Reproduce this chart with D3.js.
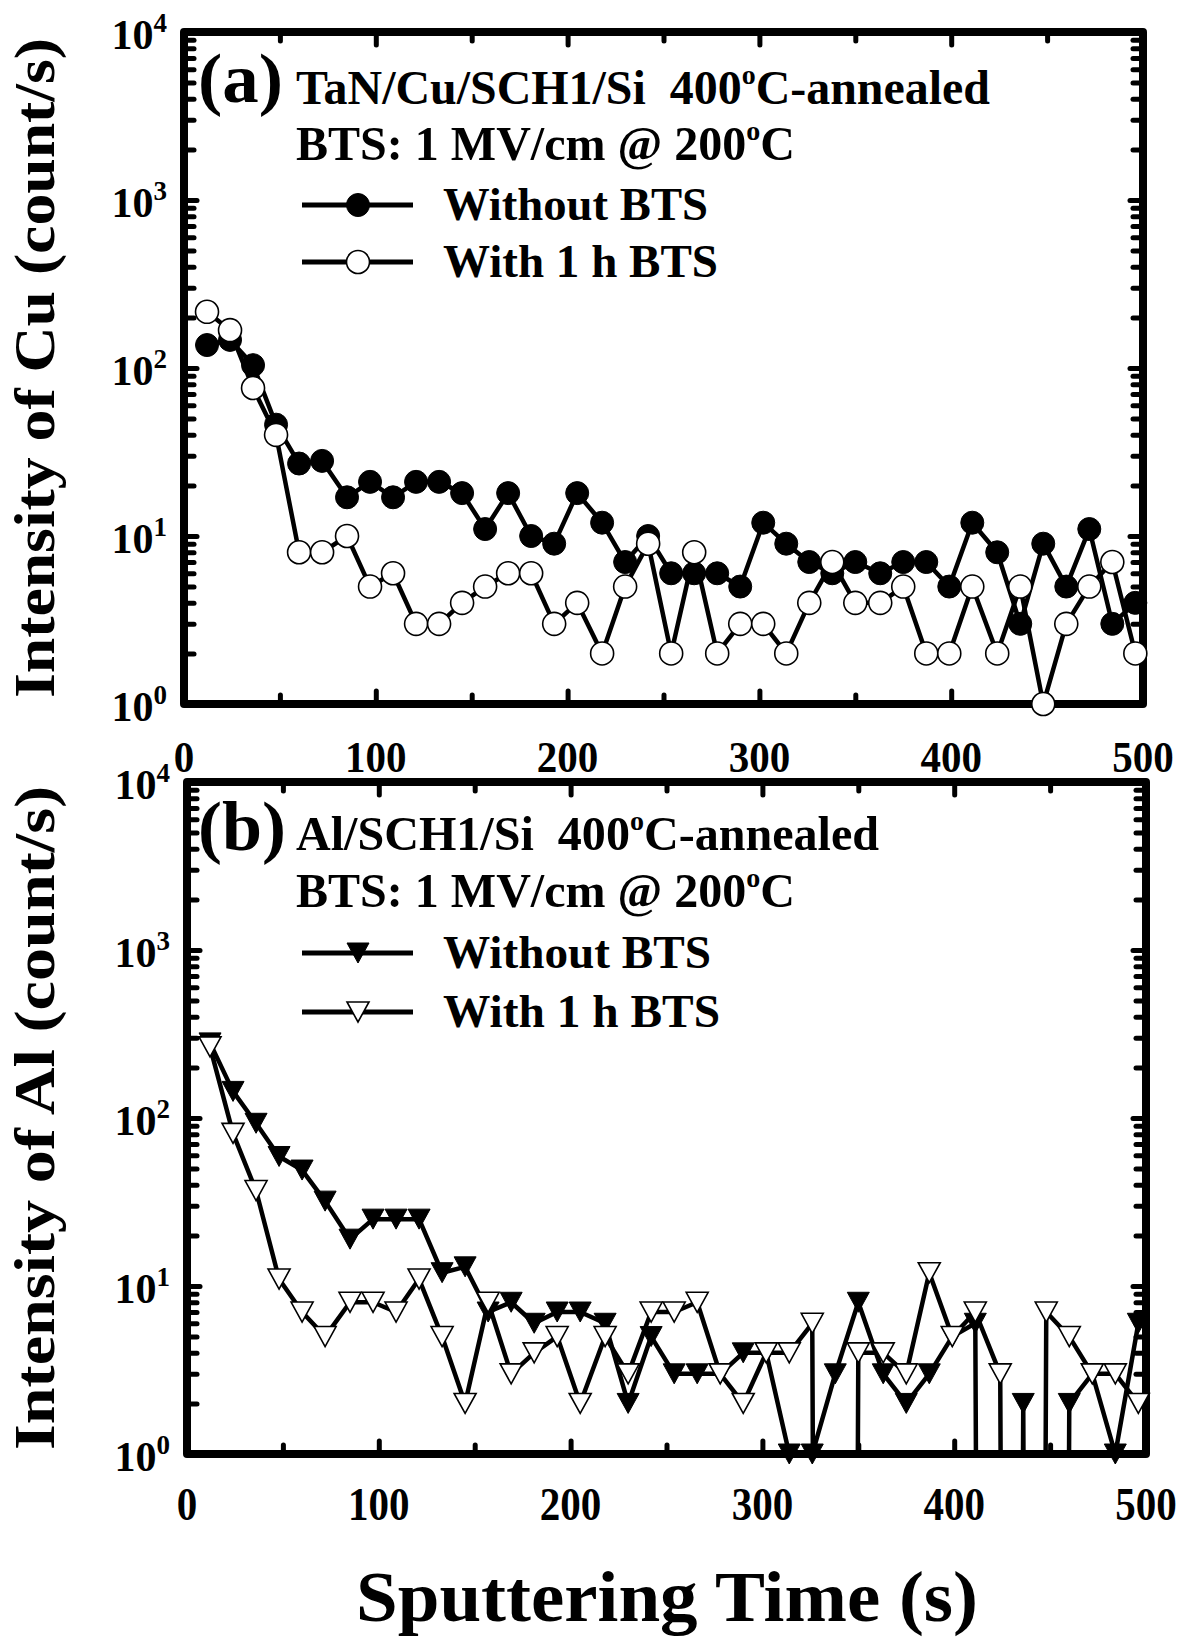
<!DOCTYPE html>
<html>
<head>
<meta charset="utf-8">
<script src="https://cdn.jsdelivr.net/npm/d3@7"></script>
<style>
body { margin: 0; background: #fff; }
text { font-family: "Liberation Serif", "Times New Roman", serif; font-weight: bold; fill: #000; white-space: pre; }
</style>
</head>
<body>
<svg id="fig" width="1184" height="1640"></svg>
<script>
// Sputtering time (s), same for all four depth profiles
var times = [12,24,36,48,60,72,85,97,109,121,133,145,157,169,181,193,205,218,230,242,
             254,266,278,290,302,314,326,338,350,363,375,387,399,411,424,436,448,460,472,484,496]

// Cu intensity (count/s), panel (a)
var cuWithout = [137,147,104,46,27,28,17,21,17,21,21,18,11,18,10,9,18,12,7,10,
                 6,6,6,5,12,9,7,6,7,6,7,7,5,12,8,3,9,5,11,3,4]
var cuWith = [216,168,76,40,8,8,10,5,6,3,3,4,5,6,6,3,4,2,5,9,
              2,8,2,3,3,2,4,7,4,4,5,2,2,5,2,5,1,3,5,7,2]

// Al intensity (count/s), panel (b); 0 = no counts
var alWithout = [280,144,93,59,49,32,19,25,25,25,12,13,7,8,6,7,7,6,2,5,
                 3,3,3,4,4,1,1,3,8,3,2,3,5,6,0,2,0,2,3,1,6]
var alWith = [265,81,37,11,7,5,8,8,7,11,5,2,8,3,4,5,2,5,3,7,
              7,8,3,2,4,4,6,0,4,4,3,12,5,7,3,0,7,5,3,3,2]

var xTicks = [0,100,200,300,400,500]
var xMinor = [50,150,250,350,450]
var yTicks = [1,10,100,1000,10000]
var yExp = ["0","1","2","3","4"]

var svg = d3.select("#fig")

var tri = "M-11,-10L11,-10L0,10Z"

function draw_panel(p) {
    var x = d3.scaleLinear().domain([0,500]).range([p.left, p.right])
    var y = d3.scaleLog().domain([1,10000]).range([p.bottom, p.top])
    var g = svg.append("g")

    // clip lines so zero counts run off the bottom
    svg.append("clipPath").attr("id", p.id + "clip")
        .append("rect")
        .attr("x", p.left).attr("y", p.top)
        .attr("width", p.right - p.left).attr("height", p.bottom - p.top)

    // ticks on all four sides, pointing in
    var minorY = y.ticks().filter(function(d) { return yTicks.indexOf(d) < 0 })
    var axes = [
        [d3.axisBottom(x).tickValues(xTicks).tickSize(-13), p.bottom, "x"],
        [d3.axisBottom(x).tickValues(xMinor).tickSize(-9), p.bottom, "x"],
        [d3.axisTop(x).tickValues(xTicks).tickSize(-13), p.top, "x"],
        [d3.axisTop(x).tickValues(xMinor).tickSize(-9), p.top, "x"],
        [d3.axisLeft(y).tickValues(yTicks).tickSize(-13), p.left, "y"],
        [d3.axisLeft(y).tickValues(minorY).tickSize(-10), p.left, "y"],
        [d3.axisRight(y).tickValues(yTicks).tickSize(-13), p.right, "y"],
        [d3.axisRight(y).tickValues(minorY).tickSize(-10), p.right, "y"]
    ]
    axes.forEach(function(a) {
        var ax = g.append("g")
            .attr("transform", a[2] == "x" ? "translate(0," + a[1] + ")" : "translate(" + a[1] + ",0)")
            .call(a[0].tickFormat(""))
        ax.select(".domain").remove()
        ax.selectAll(".tick line")
            .attr("stroke", "#000")
            .attr("stroke-width", 5)
            .attr("stroke-linecap", "round")
    })

    g.append("rect")
        .attr("x", p.left).attr("y", p.top)
        .attr("width", p.right - p.left).attr("height", p.bottom - p.top)
        .attr("fill", "none")
        .attr("stroke", "#000")
        .attr("stroke-width", 8)
        .attr("stroke-linejoin", "round")

    // tick labels
    g.selectAll(".xlab")
        .data(xTicks)
        .enter()
        .append("text")
        .attr("x", function(d) { return x(d) })
        .attr("y", p.bottom + p.xlabDy)
        .attr("text-anchor", "middle")
        .attr("textLength", function(d) { return String(d).length * 20.5 })
        .attr("lengthAdjust", "spacingAndGlyphs")
        .style("font-size", p.xlabSize + "px")
        .text(function(d) { return d })

    var ylab = g.selectAll(".ylab")
        .data(yTicks)
        .enter()
        .append("text")
        .attr("x", p.left - 17)
        .attr("y", function(d) { return y(d) + 17 })
        .attr("text-anchor", "end")
        .style("font-size", "42px")
    ylab.append("tspan").text("10")
    ylab.append("tspan")
        .attr("dy", -17)
        .style("font-size", "27px")
        .text(function(d, i) { return yExp[i] })

    // y title
    g.append("text")
        .attr("transform", "translate(" + p.titleX + "," + ((p.top + p.bottom) / 2) + ") rotate(-90)")
        .attr("text-anchor", "middle")
        .attr("textLength", p.titleLen)
        .attr("lengthAdjust", "spacingAndGlyphs")
        .style("font-size", "56px")
        .text(p.title)

    // series: filled first, open on top
    var line = d3.line()
        .x(function(d, i) { return x(times[i]) })
        .y(function(d) { return y(Math.max(d, 1e-30)) })

    p.series.forEach(function(s) {
        g.append("path")
            .datum(s.values)
            .attr("d", line)
            .attr("fill", "none")
            .attr("stroke", "#000")
            .attr("stroke-width", 4.5)
            .attr("stroke-linejoin", "round")
            .attr("clip-path", "url(#" + p.id + "clip)")

        var pts = s.values.map(function(v, i) { return {t: times[i], v: v} })
            .filter(function(d) { return d.v > 0 })
        var m = g.selectAll(".m" + s.key)
            .data(pts)
            .enter()
        add_marker(m, p.marker, s.filled)
            .attr("transform", function(d) { return "translate(" + x(d.t) + "," + y(d.v) + ")" })
    })

    // annotation
    g.append("text")
        .attr("x", p.labX).attr("y", p.labY)
        .attr("textLength", p.labLen)
        .attr("lengthAdjust", "spacingAndGlyphs")
        .style("font-size", "70px")
        .text(p.label)

    var t1 = g.append("text")
        .attr("x", 296).attr("y", p.line1Y)
        .attr("textLength", p.line1Len)
        .attr("lengthAdjust", "spacingAndGlyphs")
        .style("font-size", "48px")
    t1.append("tspan").text(p.line1 + "  400")
    t1.append("tspan").attr("dy", -20).style("font-size", "28px").text("o")
    t1.append("tspan").attr("dy", 20).text("C-annealed")

    var t2 = g.append("text")
        .attr("x", 296).attr("y", p.line2Y)
        .attr("textLength", 499)
        .attr("lengthAdjust", "spacingAndGlyphs")
        .style("font-size", "48px")
    t2.append("tspan").text("BTS: 1 MV/cm @ 200")
    t2.append("tspan").attr("dy", -20).style("font-size", "28px").text("o")
    t2.append("tspan").attr("dy", 20).text("C")

    // legend
    p.series.forEach(function(s, i) {
        var ly = p.legY[i]
        g.append("line")
            .attr("x1", 302).attr("x2", 413)
            .attr("y1", ly).attr("y2", ly)
            .attr("stroke", "#000")
            .attr("stroke-width", 5)
        add_marker(g.selectAll(".lg" + s.key).data([0]).enter(), p.marker, s.filled)
            .attr("transform", "translate(358," + ly + ")")
        g.append("text")
            .attr("x", 443).attr("y", ly + 15)
            .attr("textLength", s.textLen)
            .attr("lengthAdjust", "spacingAndGlyphs")
            .style("font-size", "46px")
            .text(s.name)
    })
}

function add_marker(sel, kind, filled) {
    var mk
    if (kind == "circle") {
        mk = sel.append("circle").attr("r", 11.5)
    } else {
        mk = sel.append("path").attr("d", tri)
    }
    return mk
        .attr("fill", filled ? "#000" : "#fff")
        .attr("stroke", "#000")
        .attr("stroke-width", filled ? 1 : 1.6)
}

draw_panel({
    id: "a", left: 184, right: 1143, top: 32, bottom: 704,
    xlabDy: 68, xlabSize: 44,
    title: "Intensity of Cu (count/s)", titleX: 54, titleLen: 660,
    marker: "circle",
    label: "(a)", labX: 198, labY: 102, labLen: 85,
    line1: "TaN/Cu/SCH1/Si", line1Y: 104, line1Len: 694,
    line2Y: 160,
    legY: [205, 262],
    series: [
        {key: "w0", name: "Without BTS", values: cuWithout, filled: true, textLen: 265},
        {key: "w1", name: "With 1 h BTS", values: cuWith, filled: false, textLen: 275}
    ]
})

draw_panel({
    id: "b", left: 187, right: 1146, top: 782, bottom: 1454,
    xlabDy: 66, xlabSize: 46,
    title: "Intensity of Al (count/s)", titleX: 54, titleLen: 664,
    marker: "tri",
    label: "(b)", labX: 198, labY: 850, labLen: 88,
    line1: "Al/SCH1/Si", line1Y: 850, line1Len: 583,
    line2Y: 907,
    legY: [953, 1012],
    series: [
        {key: "w0", name: "Without BTS", values: alWithout, filled: true, textLen: 268},
        {key: "w1", name: "With 1 h BTS", values: alWith, filled: false, textLen: 277}
    ]
})

svg.append("text")
    .attr("x", 667).attr("y", 1621)
    .attr("text-anchor", "middle")
    .attr("textLength", 622)
    .attr("lengthAdjust", "spacingAndGlyphs")
    .style("font-size", "72px")
    .text("Sputtering Time (s)")
</script>
</body>
</html>
